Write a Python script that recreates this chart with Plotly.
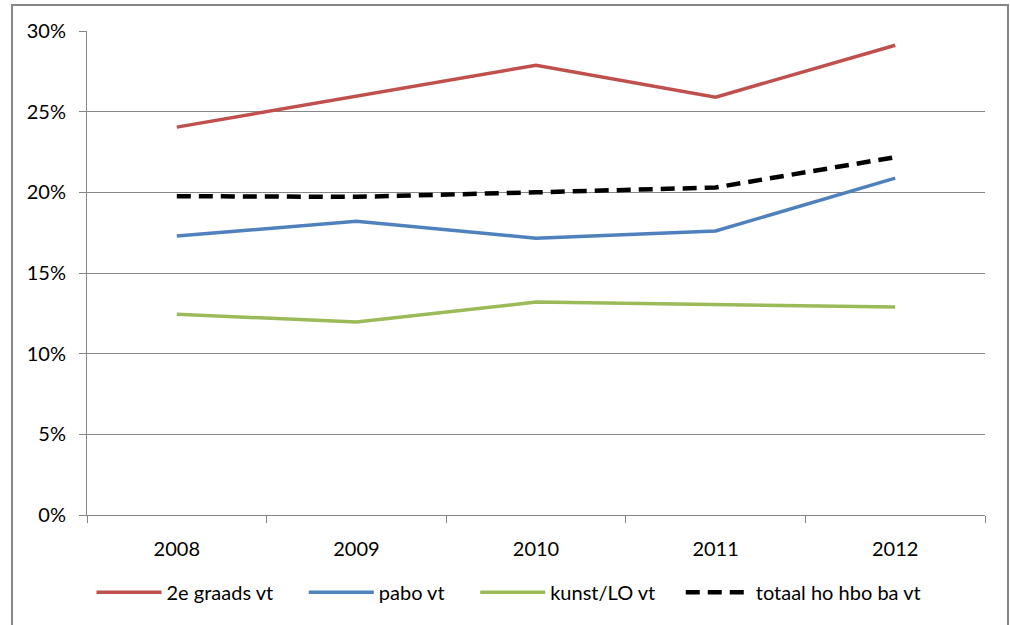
import plotly.graph_objects as go

years = ["2008", "2009", "2010", "2011", "2012"]
tweede_graads = [0.2404, 0.2596, 0.2788, 0.2590, 0.2912]
pabo = [0.1729, 0.1820, 0.1716, 0.1760, 0.2088]
kunst_lo = [0.1245, 0.1196, 0.1320, 0.1307, 0.1289]
totaal = [0.1976, 0.1972, 0.2000, 0.2030, 0.2218]

series_names = ["2e graads vt", "pabo vt", "kunst/LO vt", "totaal ho hbo ba vt"]
y_ticks = [0, 0.05, 0.10, 0.15, 0.20, 0.25, 0.30]
y_tick_text = ["0%", "5%", "10%", "15%", "20%", "25%", "30%"]

xs = list(range(len(years)))
FONT = "Lato, 'Open Sans', sans-serif"
GRAY = "#868686"
NB = "\u00a0"

fig = go.Figure()
fig.add_trace(go.Scatter(x=xs, y=tweede_graads, mode="lines", name=series_names[0] + NB * 5,
                         line=dict(color="#C0504D", width=3.5)))
fig.add_trace(go.Scatter(x=xs, y=pabo, mode="lines", name=series_names[1] + NB * 5,
                         line=dict(color="#4F81BD", width=3.5)))
fig.add_trace(go.Scatter(x=xs, y=kunst_lo, mode="lines", name=series_names[2] + NB * 4,
                         line=dict(color="#9BBB59", width=3.5)))
fig.add_trace(go.Scatter(x=xs, y=totaal, mode="lines", name=series_names[3],
                         line=dict(color="#000000", width=4.5, dash="14px,8px")))

fig.update_layout(
    width=1010, height=625,
    margin=dict(l=87, r=25, t=31, b=110),
    paper_bgcolor="white", plot_bgcolor="white",
    font=dict(family=FONT, size=20, color="#000000"),
    showlegend=True,
    legend=dict(orientation="h", xref="container", yref="container",
                x=0.0906, xanchor="left", y=0.0525, yanchor="middle",
                font=dict(family=FONT, size=20), itemwidth=65,
                traceorder="normal", tracegroupgap=0),
    xaxis=dict(range=[-0.5, 4.5], tickvals=xs, ticktext=years, ticks="",
               showgrid=False, zeroline=False, showline=True, linecolor=GRAY, linewidth=1,
               ticklabelstandoff=16, fixedrange=True,
               minor=dict(tick0=-0.5, dtick=1, ticks="outside", ticklen=7,
                          tickcolor=GRAY, showgrid=False)),
    yaxis=dict(range=[0, 0.30], tickvals=y_ticks, ticktext=y_tick_text,
               ticks="outside", ticklen=7, tickcolor=GRAY,
               showgrid=True, gridcolor=GRAY, gridwidth=1,
               zeroline=False, showline=True, linecolor=GRAY, linewidth=1,
               ticklabelstandoff=9, fixedrange=True),
)

# outer chart frame
fig.add_shape(type="rect", xref="paper", yref="paper",
              x0=-0.0835, x1=1.0256, y0=-0.26, y1=1.0537,
              line=dict(color=GRAY, width=2), fillcolor="rgba(0,0,0,0)", layer="below")

fig.write_html("out.html", config={"displayModeBar": False},
               post_script="document.body.style.margin='0';document.body.style.overflow='hidden';")
